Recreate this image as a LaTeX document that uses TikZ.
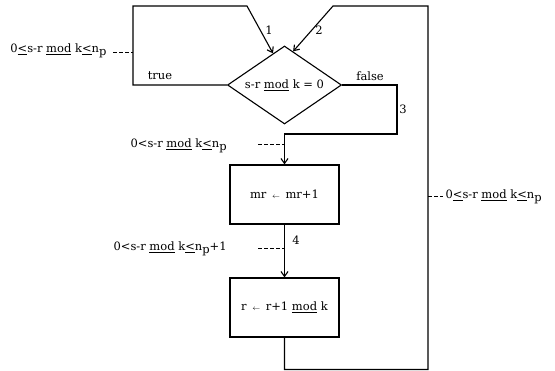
\documentclass[tikz,border=0pt]{standalone}
\usepackage{fontspec}
\setmainfont{DejaVu Serif}
\usetikzlibrary{shapes.geometric,arrows.meta,calc}
\newcommand{\ud}{\underline{mod}}
\newcommand{\np}{n\raisebox{-0.5ex}{p}}
\begin{document}
\begin{tikzpicture}[x=1pt,y=-1pt,
  line width=1.1pt,
  flow/.style={-{Straight Barb[length=5pt,width=7pt]}},
  dashlink/.style={line width=0.8pt, dash pattern=on 3.5pt off 2.5pt},
  lbl/.style={font=\fontsize{11.5}{13}\selectfont, inner sep=1pt},
  boxnode/.style={draw, minimum width=109pt, minimum height=59pt, inner sep=0pt, font=\fontsize{11.5}{13}\selectfont},
  decision/.style={draw, diamond, aspect=1.46, minimum width=114pt, minimum height=78pt, inner sep=0pt, font=\fontsize{11.5}{13}\selectfont}]
\useasboundingbox (0,0) rectangle (555,371);
\node[decision] (dia) at (284.5,85) {s-r \ud{} k = 0};
\node[boxnode] (b1) at (284.5,194.5) {mr\, {\scriptsize$\leftarrow$}\, mr+1};
\node[boxnode] (b2) at (284.5,307.5) {r\, {\scriptsize$\leftarrow$}\, r+1 \ud{} k};
\coordinate (t1) at ($(dia.north)!0.2!(dia.west)$);
\coordinate (t2) at ($(dia.north)!0.15!(dia.east)$);
% left loop (true)
\draw[flow] (dia.west) -- (133,85) -- (133,6) -- (247,6) -- (t1);
% right loop
\draw[flow] (b2.south) -- (284.5,369.5) -- (428,369.5) -- (428,6) -- (333,6) -- (t2);
% false branch
\draw[flow] (dia.east) -- (397,85) -- (397,134) -- (284.5,134) -- (b1.north);
\draw[flow] (b1.south) -- (b2.north);
% labels
\node[lbl] (l1) at (269,30) {1};
\node[lbl] (l2) at (319,30) {2};
\node[lbl] (ltrue) at (160,76) {true};
\node[lbl] (lfalse) at (370,76) {false};
\node[lbl] (l3) at (403,109) {3};
\node[lbl] (l4) at (296,240) {4};
% assertions
\node[lbl, anchor=east] (a1) at (108,51) {0\underline{<}s-r \ud{} k\underline{<}\np};
\coordinate (d1a) at (113,52); \coordinate (d1b) at (133,52);
\draw[dashlink] (d1a) -- (d1b);
\node[lbl, anchor=west] (a2) at (129,146) {0<s-r \ud{} k\underline{<}\np};
\coordinate (d2a) at (258,144); \coordinate (d2b) at (284.5,144);
\draw[dashlink] (d2a) -- (d2b);
\node[lbl, anchor=west] (a3) at (112,249) {0<s-r \ud{} k\underline{<}\np+1};
\coordinate (d3a) at (258,248); \coordinate (d3b) at (284.5,248);
\draw[dashlink] (d3a) -- (d3b);
\node[lbl, anchor=west] (a4) at (444,197) {0\underline{<}s-r \ud{} k\underline{<}\np};
\coordinate (d4a) at (428,196); \coordinate (d4b) at (443,196);
\draw[dashlink] (d4a) -- (d4b);
\end{tikzpicture}
\end{document}
